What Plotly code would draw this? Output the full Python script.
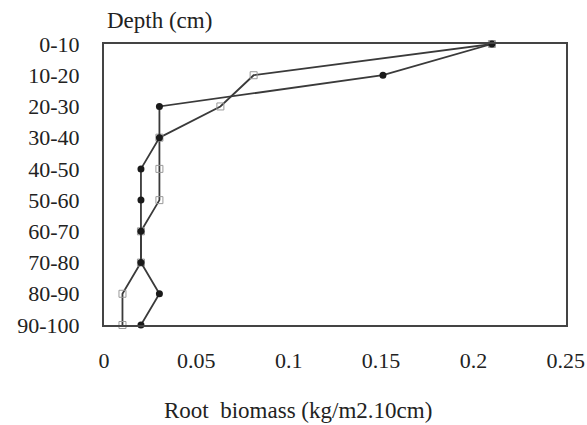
import plotly.graph_objects as go

depths = ["0-10", "10-20", "20-30", "30-40", "40-50", "50-60", "60-70", "70-80", "80-90", "90-100"]
filled_vals = [0.21, 0.151, 0.03, 0.03, 0.02, 0.02, 0.02, 0.02, 0.03, 0.02]
open_vals = [0.21, 0.081, 0.063, 0.03, 0.03, 0.03, 0.02, 0.02, 0.01, 0.01]
x_ticks = [0, 0.05, 0.1, 0.15, 0.2, 0.25]
x_labels = ["0", "0.05", "0.1", "0.15", "0.2", "0.25"]

font = "Liberation Serif, Times New Roman, serif"
txt_col = "#222222"
line_col = "#3a3a3a"

fig = go.Figure()
fig.add_trace(go.Scatter(
    x=open_vals, y=depths, mode="lines+markers",
    line=dict(color=line_col, width=1.8),
    marker=dict(symbol="square-open", size=7, color="#999999", line=dict(width=1)),
    showlegend=False, cliponaxis=False))
fig.add_trace(go.Scatter(
    x=filled_vals, y=depths, mode="lines+markers",
    line=dict(color=line_col, width=1.8),
    marker=dict(symbol="circle", size=7, color="#1a1a1a"),
    showlegend=False, cliponaxis=False))

fig.update_layout(
    width=587, height=425,
    margin=dict(l=104, r=21, t=44, b=100),
    paper_bgcolor="white", plot_bgcolor="white",
    font=dict(family=font, size=22, color=txt_col),
    xaxis=dict(range=[0, 0.2501], tickvals=x_ticks, ticktext=x_labels,
               showgrid=False, zeroline=False, showline=True, mirror=True,
               linecolor="#444444", linewidth=2, ticks="", ticklabelstandoff=15,
               automargin=False, ticklabeloverflow="allow"),
    yaxis=dict(type="category", categoryorder="array", categoryarray=depths,
               range=[9, 0], showgrid=False, zeroline=False, showline=True,
               mirror=True, linecolor="#444444", linewidth=2, ticks="",
               ticklabelstandoff=18, automargin=False, ticklabeloverflow="allow"),
    annotations=[
        dict(text="Depth (cm)", x=0.12, y=1.0, xref="paper", yref="paper",
             xanchor="center", yanchor="middle", yshift=24, showarrow=False,
             font=dict(family=font, size=23, color=txt_col)),
        dict(text="Root&nbsp;&nbsp;biomass (kg/m2.10cm)", x=0.105, y=0, xref="x", yref="paper",
             xanchor="center", yanchor="middle", yshift=-85, showarrow=False,
             font=dict(family=font, size=23, color=txt_col)),
    ],
)
fig.write_html("out.html")
